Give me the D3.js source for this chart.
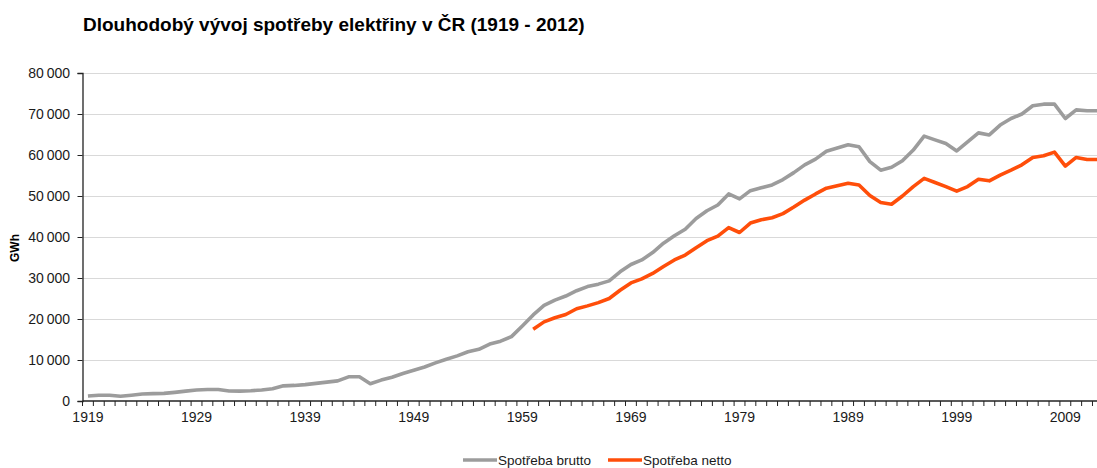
<!DOCTYPE html>
<html>
<head>
<meta charset="utf-8">
<script src="https://cdn.jsdelivr.net/npm/d3@7"></script>
<style>
  body { margin: 0; background: #fff; }
  svg { display: block; font-family: "Liberation Sans", Arial, sans-serif; }
</style>
</head>
<body>
<svg id="drawspace" width="1097" height="468"></svg>
<script>
// categories
const firstYear = 1919;
const lastYear = 2012;
const years = d3.range(firstYear, lastYear + 1);
const yTicks = [0, 10000, 20000, 30000, 40000, 50000, 60000, 70000, 80000];
const xLabelYears = [1919, 1929, 1939, 1949, 1959, 1969, 1979, 1989, 1999, 2009];

// Spotřeba brutto, GWh, 1919-2012
const brutto = [
  1200, 1400, 1400, 1150, 1400, 1700, 1800, 1850, 2100, 2400,
  2700, 2800, 2800, 2450, 2400, 2500, 2700, 3000, 3700, 3800,
  4000, 4300, 4600, 4900, 5900, 5900, 4200, 5100, 5800, 6700,
  7500, 8300, 9300, 10200, 11000, 12000, 12600, 13900, 14600, 15700,
  18300, 21000, 23300, 24600, 25600, 26900, 27900, 28500, 29300, 31500,
  33300, 34400, 36200, 38500, 40300, 41900, 44500, 46400, 47800, 50500,
  49300, 51300, 52000, 52700, 54000, 55700, 57600, 59000, 60900, 61700,
  62500, 62000, 58400, 56300, 57000, 58600, 61200, 64600, 63700, 62800,
  61000, 63200, 65400, 64900, 67300, 68900, 70000, 72000, 72400, 72400,
  68900, 71000, 70800, 70800
];

// Spotřeba netto, GWh, 1960-2012
const nettoStart = 1960;
const netto = [
  17500, 19300, 20300, 21100, 22500, 23200, 24000, 25000, 27000, 28800,
  29800, 31100, 32800, 34400, 35600, 37400, 39100, 40200, 42300, 41100,
  43400, 44200, 44700, 45700, 47300, 49000, 50500, 51900, 52500, 53100,
  52700, 50100, 48400, 48000, 50000, 52300, 54300, 53300, 52300, 51200,
  52300, 54100, 53700, 55100, 56300, 57600, 59400, 59800, 60700, 57300,
  59400, 58900, 58900
];

const seriesNames = ["Spotřeba brutto", "Spotřeba netto"];
const seriesColors = ["#9c9c9c", "#ff4e0a"];

const svg = d3.select("#drawspace");
const plotLeft = 82.5, plotTop = 73, plotBottom = 401;
const step = 10.86;

const xScale = d3.scaleBand()
  .domain(years)
  .range([plotLeft, plotLeft + years.length * step])
  .padding(0);

const yScale = d3.scaleLinear()
  .domain([0, 80000])
  .range([plotBottom, plotTop]);

const cx = (yr) => xScale(yr) + xScale.bandwidth() / 2;

// title
svg.append("text")
  .attr("x", 83)
  .attr("y", 31)
  .attr("font-size", "19px")
  .attr("font-weight", "bold")
  .attr("fill", "#000")
  .text("Dlouhodobý vývoj spotřeby elektřiny v ČR (1919 - 2012)");

// grid
svg.append("g")
  .attr("transform", "translate(" + plotLeft + ",0)")
  .call(d3.axisLeft(yScale).tickValues(yTicks.slice(1)).tickSize(-(1097 - plotLeft)).tickFormat(""))
  .call((g) => g.select(".domain").remove())
  .selectAll("line")
  .attr("stroke", "#d9d9d9")
  .attr("stroke-width", 1.2);

// y axis
const fmt = d3.formatLocale({ decimal: ",", thousands: "\u2009", grouping: [3], currency: ["", " Kč"] }).format(",.0f");
const yAxis = svg.append("g")
  .attr("transform", "translate(" + plotLeft + ",0)")
  .call(d3.axisLeft(yScale).tickValues(yTicks).tickSize(5).tickFormat(fmt));
yAxis.select(".domain").attr("stroke", "#222").attr("stroke-width", 1.3);
yAxis.selectAll("line").attr("stroke", "#222");
yAxis.selectAll("text")
  .attr("font-size", "14px")
  .attr("fill", "#1a1a1a")
  .attr("x", -12.5)
  .attr("font-family", "Liberation Sans, Arial, sans-serif");

svg.append("text")
  .attr("transform", "translate(19,248) rotate(-90)")
  .attr("text-anchor", "middle")
  .attr("font-size", "12px")
  .attr("font-weight", "bold")
  .attr("fill", "#000")
  .text("GWh");

// x axis
svg.append("line")
  .attr("x1", plotLeft).attr("x2", 1097)
  .attr("y1", plotBottom).attr("y2", plotBottom)
  .attr("stroke", "#222").attr("stroke-width", 1.3);

const tickEdges = years.map((yr) => xScale(yr)).concat([xScale(lastYear) + xScale.bandwidth()]);
svg.append("g")
  .selectAll("line")
  .data(tickEdges)
  .enter()
  .append("line")
  .attr("x1", (d) => d).attr("x2", (d) => d)
  .attr("y1", plotBottom).attr("y2", plotBottom + 5)
  .attr("stroke", "#222");

svg.append("g")
  .selectAll("text")
  .data(xLabelYears)
  .enter()
  .append("text")
  .attr("x", (d) => cx(d))
  .attr("y", 422)
  .attr("text-anchor", "middle")
  .attr("font-size", "14px")
  .attr("fill", "#1a1a1a")
  .text((d) => d);

// lines
const line = d3.line()
  .x((d) => cx(d.year))
  .y((d) => yScale(d.value));

const bruttoData = years.map((yr, i) => ({ year: yr, value: brutto[i] }));
const nettoData = netto.map((v, i) => ({ year: nettoStart + i, value: v }));

svg.append("path")
  .datum(bruttoData)
  .attr("fill", "none")
  .attr("stroke", seriesColors[0])
  .attr("stroke-width", 3.6)
  .attr("stroke-linejoin", "round")
  .attr("d", line);

svg.append("path")
  .datum(nettoData)
  .attr("fill", "none")
  .attr("stroke", seriesColors[1])
  .attr("stroke-width", 3.6)
  .attr("stroke-linejoin", "round")
  .attr("d", line);

// legend
const legendX = [463, 608];
const legend = svg.append("g")
  .selectAll("g")
  .data(seriesNames)
  .enter()
  .append("g")
  .attr("transform", (d, i) => "translate(" + legendX[i] + ",460)");

legend.append("line")
  .attr("x1", 0).attr("x2", 34)
  .attr("stroke", (d, i) => seriesColors[i])
  .attr("stroke-width", 3.6);

legend.append("text")
  .attr("x", 35)
  .attr("y", 4.5)
  .attr("font-size", "13.5px")
  .attr("fill", "#1a1a1a")
  .text((d) => d);
</script>
</body>
</html>
